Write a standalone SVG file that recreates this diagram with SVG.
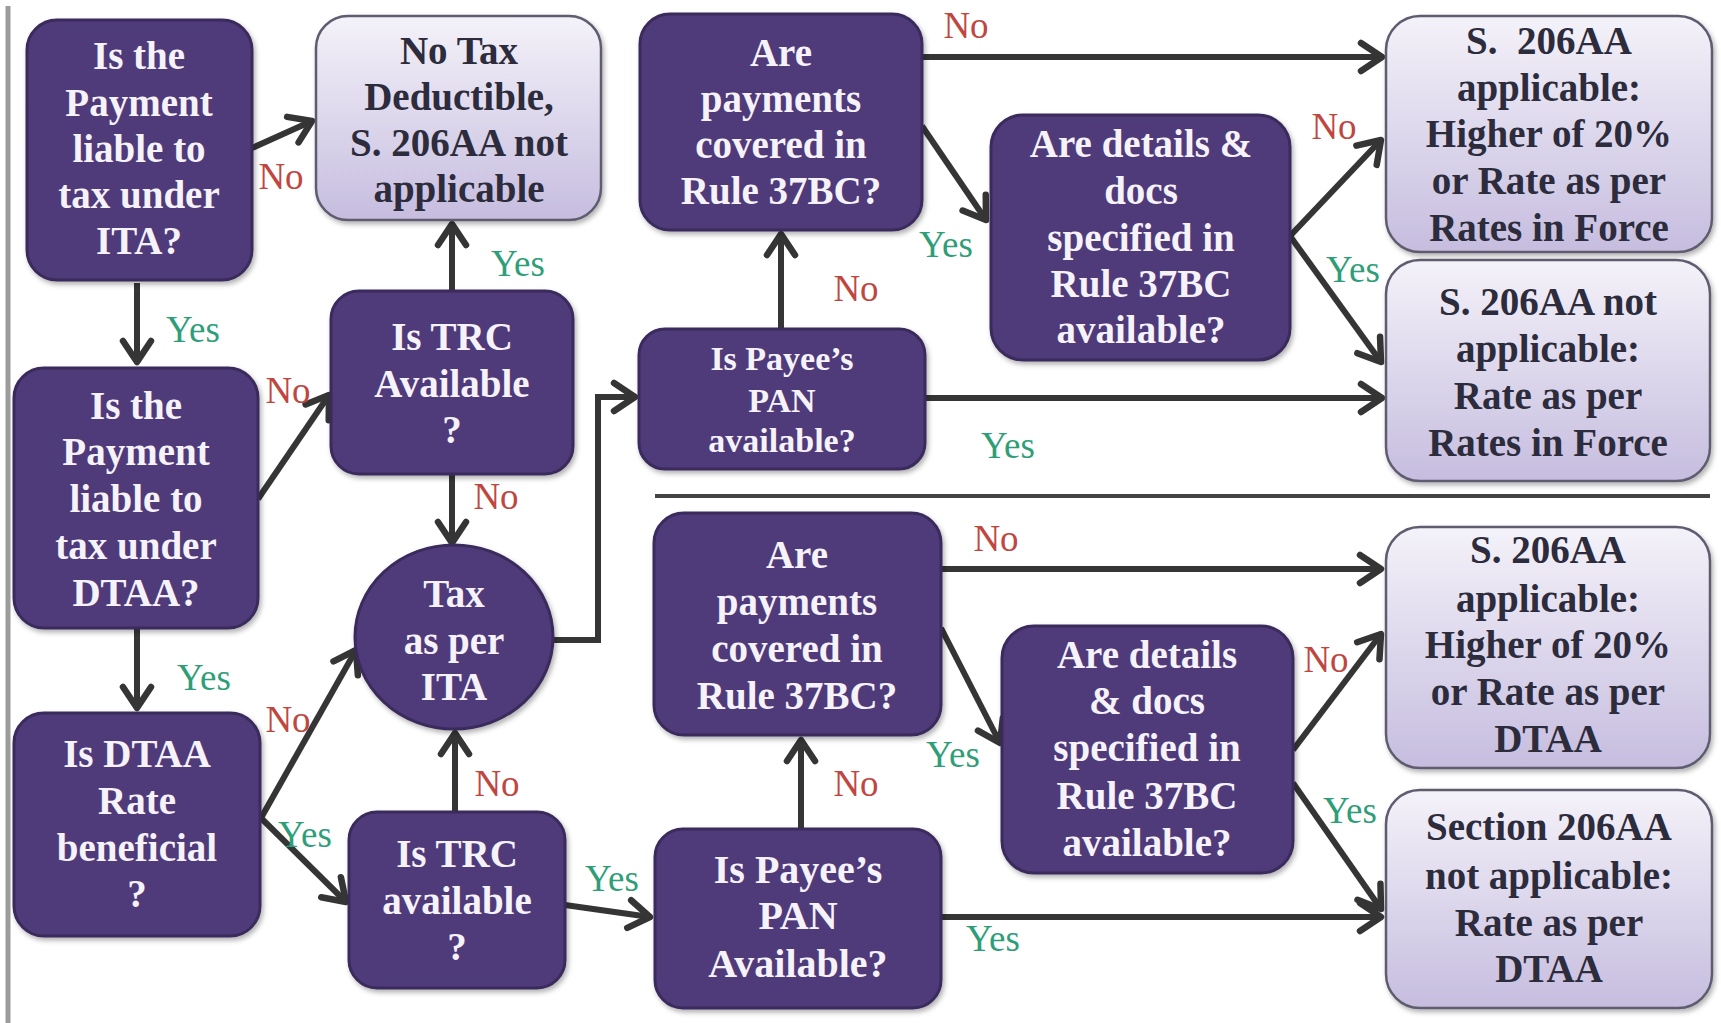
<svg xmlns="http://www.w3.org/2000/svg" width="1721" height="1023" viewBox="0 0 1721 1023">
<defs>
<linearGradient id="lav" x1="0" y1="0" x2="0" y2="1">
<stop offset="0" stop-color="#f4f2f9"/>
<stop offset="1" stop-color="#c6bddf"/>
</linearGradient>
<filter id="sh" x="-10%" y="-10%" width="125%" height="125%">
<feDropShadow dx="2" dy="3" stdDeviation="2.5" flood-color="#000" flood-opacity="0.3"/>
</filter>
<marker id="arr" viewBox="-26 -18 30 36" refX="0" refY="0" markerWidth="30" markerHeight="36" markerUnits="userSpaceOnUse" orient="auto">
<path d="M-21,-14 L0,0 L-21,14" fill="none" stroke="#353535" stroke-width="6.5" stroke-linecap="round" stroke-linejoin="round"/>
</marker>
<style>
.q{fill:#4f3b7a;stroke:#3a2b5c;stroke-width:3;filter:url(#sh)}
.r{fill:url(#lav);stroke:#5f5b70;stroke-width:2.5;filter:url(#sh)}
.qt{font-family:"Liberation Serif",serif;font-weight:bold;font-size:39px;fill:#f6f2fa;text-anchor:middle;dominant-baseline:central}
.rt{font-family:"Liberation Serif",serif;font-weight:bold;font-size:39px;fill:#2c2c3c;text-anchor:middle;dominant-baseline:central}
.c{fill:none;stroke:#353535;stroke-width:6;marker-end:url(#arr)}
.no{font-family:"Liberation Serif",serif;font-size:37px;fill:#c0473f;text-anchor:middle;dominant-baseline:central}
.yes{font-family:"Liberation Serif",serif;font-size:37px;fill:#2e9e78;text-anchor:middle;dominant-baseline:central}
</style>
</defs>
<rect x="0" y="0" width="1721" height="1023" fill="#ffffff"/>
<line x1="8" y1="6" x2="8" y2="1023" stroke="#9c9c9c" stroke-width="5"/>
<line x1="655" y1="496" x2="1710" y2="496" stroke="#444444" stroke-width="4"/>

<g id="connectors">
<line class="c" x1="252" y1="148" x2="312" y2="121"/>
<line class="c" x1="137" y1="283" x2="137" y2="362"/>
<line class="c" x1="258" y1="499" x2="329" y2="395"/>
<line class="c" x1="452" y1="291" x2="452" y2="224"/>
<line class="c" x1="452" y1="474" x2="452" y2="543"/>
<line class="c" x1="137" y1="628" x2="137" y2="708"/>
<line class="c" x1="261" y1="818" x2="356" y2="650"/>
<line class="c" x1="261" y1="818" x2="346" y2="902"/>
<line class="c" x1="455" y1="812" x2="455" y2="733"/>
<path class="c" d="M553 640 H598 V397 H635"/>
<line class="c" x1="781" y1="329" x2="781" y2="234"/>
<line class="c" x1="922" y1="57" x2="1382" y2="57"/>
<line class="c" x1="922" y1="126" x2="986" y2="220"/>
<line class="c" x1="1290" y1="236" x2="1381" y2="140"/>
<line class="c" x1="1290" y1="236" x2="1381" y2="362"/>
<line class="c" x1="925" y1="398" x2="1382" y2="398"/>
<line class="c" x1="565" y1="905" x2="650" y2="917"/>
<line class="c" x1="801" y1="829" x2="801" y2="740"/>
<line class="c" x1="941" y1="569" x2="1381" y2="569"/>
<line class="c" x1="941" y1="628" x2="1000" y2="743"/>
<line class="c" x1="1293" y1="750" x2="1381" y2="634"/>
<line class="c" x1="1293" y1="783" x2="1381" y2="909"/>
<line class="c" x1="941" y1="917" x2="1381" y2="917"/>
<text class="no" x="281" y="176">No</text>
<text class="yes" x="193" y="329">Yes</text>
<text class="no" x="288" y="390">No</text>
<text class="yes" x="518" y="263">Yes</text>
<text class="no" x="496" y="496">No</text>
<text class="yes" x="204" y="677">Yes</text>
<text class="no" x="288" y="719">No</text>
<text class="yes" x="305" y="834">Yes</text>
<text class="no" x="497" y="783">No</text>
<text class="no" x="856" y="288">No</text>
<text class="no" x="966" y="25">No</text>
<text class="yes" x="946" y="244">Yes</text>
<text class="no" x="1334" y="126">No</text>
<text class="yes" x="1353" y="269">Yes</text>
<text class="yes" x="1008" y="445">Yes</text>
<text class="yes" x="612" y="878">Yes</text>
<text class="no" x="856" y="783">No</text>
<text class="no" x="996" y="538">No</text>
<text class="yes" x="953" y="754">Yes</text>
<text class="no" x="1326" y="659">No</text>
<text class="yes" x="1350" y="810">Yes</text>
<text class="yes" x="993" y="938">Yes</text>
</g>

<g id="q-ita">
<rect class="q" x="27" y="20" width="225" height="260" rx="30"/>
<text class="qt" x="139" y="55">Is the</text>
<text class="qt" x="139" y="102">Payment</text>
<text class="qt" x="139" y="148">liable to</text>
<text class="qt" x="139" y="194">tax under</text>
<text class="qt" x="139" y="240">ITA?</text>
</g>
<g id="r-notax">
<rect class="r" x="316" y="16" width="285" height="204" rx="32"/>
<text class="rt" x="459" y="50">No Tax</text>
<text class="rt" x="459" y="96">Deductible,</text>
<text class="rt" x="459" y="142">S. 206AA not</text>
<text class="rt" x="459" y="188">applicable</text>
</g>
<g id="q-rule-top">
<rect class="q" x="640" y="14" width="282" height="216" rx="30"/>
<text class="qt" x="781" y="52">Are</text>
<text class="qt" x="781" y="98">payments</text>
<text class="qt" x="781" y="144">covered in</text>
<text class="qt" x="781" y="190">Rule 37BC?</text>
</g>
<g id="q-docs-top">
<rect class="q" x="991" y="115" width="299" height="245" rx="32"/>
<text class="qt" x="1141" y="143">Are details &amp;</text>
<text class="qt" x="1141" y="190">docs</text>
<text class="qt" x="1141" y="237">specified in</text>
<text class="qt" x="1141" y="283">Rule 37BC</text>
<text class="qt" x="1141" y="329">available?</text>
</g>
<g id="r-applicable-top">
<rect class="r" x="1386" y="16" width="326" height="236" rx="34"/>
<text class="rt" x="1549" y="40" xml:space="preserve">S.  206AA</text>
<text class="rt" x="1549" y="87">applicable:</text>
<text class="rt" x="1549" y="133">Higher of 20%</text>
<text class="rt" x="1549" y="180">or Rate as per</text>
<text class="rt" x="1549" y="227">Rates in Force</text>
</g>
<g id="r-notapplicable-top">
<rect class="r" x="1386" y="260" width="324" height="221" rx="34"/>
<text class="rt" x="1548" y="301">S. 206AA not</text>
<text class="rt" x="1548" y="348">applicable:</text>
<text class="rt" x="1548" y="395">Rate as per</text>
<text class="rt" x="1548" y="442">Rates in Force</text>
</g>
<g id="q-dtaa">
<rect class="q" x="14" y="368" width="244" height="260" rx="30"/>
<text class="qt" x="136" y="405">Is the</text>
<text class="qt" x="136" y="451">Payment</text>
<text class="qt" x="136" y="498">liable to</text>
<text class="qt" x="136" y="545">tax under</text>
<text class="qt" x="136" y="592">DTAA?</text>
</g>
<g id="q-trc-top">
<rect class="q" x="331" y="291" width="242" height="183" rx="28"/>
<text class="qt" x="452" y="336">Is TRC</text>
<text class="qt" x="452" y="383">Available</text>
<text class="qt" x="452" y="429">?</text>
</g>
<g id="q-pan-top">
<rect class="q" x="639" y="329" width="286" height="140" rx="26"/>
<text class="qt" x="782" y="358" style="font-size:34px">Is Payee’s</text>
<text class="qt" x="782" y="400" style="font-size:34px">PAN</text>
<text class="qt" x="782" y="440" style="font-size:34px">available?</text>
</g>
<g id="c-tax-ita">
<ellipse class="q" cx="454" cy="637" rx="99" ry="92"/>
<text class="qt" x="454" y="593">Tax</text>
<text class="qt" x="454" y="640">as per</text>
<text class="qt" x="454" y="686">ITA</text>
</g>
<g id="q-rate">
<rect class="q" x="14" y="713" width="246" height="223" rx="30"/>
<text class="qt" x="137" y="753">Is DTAA</text>
<text class="qt" x="137" y="800">Rate</text>
<text class="qt" x="137" y="847">beneficial</text>
<text class="qt" x="137" y="893">?</text>
</g>
<g id="q-trc-bottom">
<rect class="q" x="349" y="812" width="216" height="176" rx="28"/>
<text class="qt" x="457" y="853">Is TRC</text>
<text class="qt" x="457" y="900">available</text>
<text class="qt" x="457" y="946">?</text>
</g>
<g id="q-rule-bottom">
<rect class="q" x="654" y="513" width="287" height="222" rx="30"/>
<text class="qt" x="797" y="554">Are</text>
<text class="qt" x="797" y="601">payments</text>
<text class="qt" x="797" y="648">covered in</text>
<text class="qt" x="797" y="695">Rule 37BC?</text>
</g>
<g id="q-pan-bottom">
<rect class="q" x="655" y="829" width="286" height="179" rx="28"/>
<text class="qt" x="798" y="869" style="font-size:40px">Is Payee’s</text>
<text class="qt" x="798" y="915" style="font-size:40px">PAN</text>
<text class="qt" x="798" y="963" style="font-size:40px">Available?</text>
</g>
<g id="q-docs-bottom">
<rect class="q" x="1002" y="626" width="291" height="247" rx="32"/>
<text class="qt" x="1147" y="654">Are details</text>
<text class="qt" x="1147" y="700">&amp; docs</text>
<text class="qt" x="1147" y="747">specified in</text>
<text class="qt" x="1147" y="795">Rule 37BC</text>
<text class="qt" x="1147" y="842">available?</text>
</g>
<g id="r-applicable-bottom">
<rect class="r" x="1386" y="527" width="324" height="241" rx="34"/>
<text class="rt" x="1548" y="549">S. 206AA</text>
<text class="rt" x="1548" y="598">applicable:</text>
<text class="rt" x="1548" y="644">Higher of 20%</text>
<text class="rt" x="1548" y="691">or Rate as per</text>
<text class="rt" x="1548" y="738">DTAA</text>
</g>
<g id="r-notapplicable-bottom">
<rect class="r" x="1386" y="790" width="326" height="218" rx="34"/>
<text class="rt" x="1549" y="826">Section 206AA</text>
<text class="rt" x="1549" y="875">not applicable:</text>
<text class="rt" x="1549" y="922">Rate as per</text>
<text class="rt" x="1549" y="968">DTAA</text>
</g>
</svg>
